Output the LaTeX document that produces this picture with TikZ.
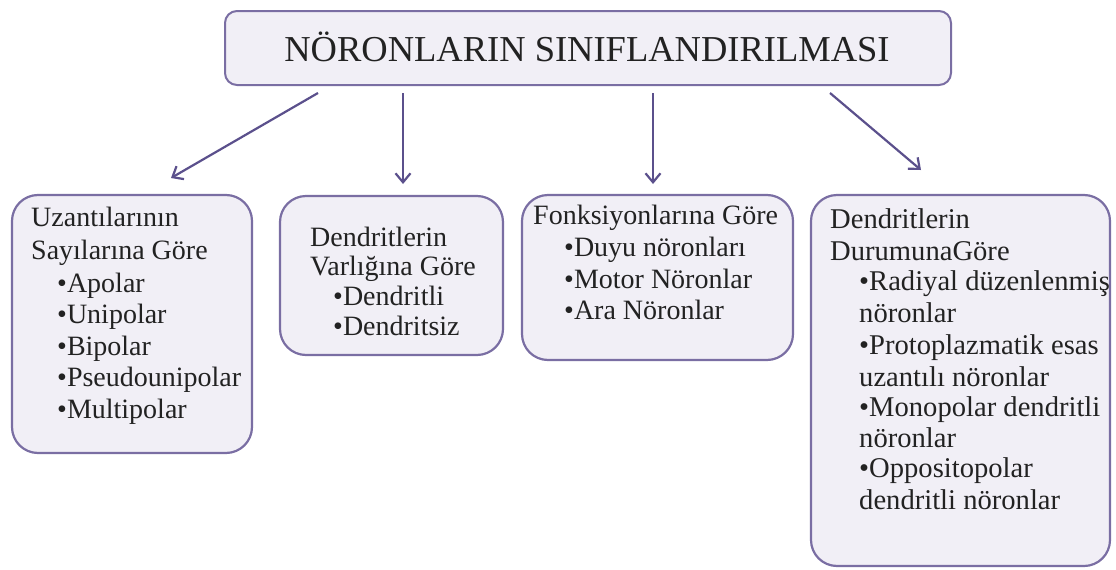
\documentclass[tikz,border=0pt]{standalone}
\usepackage{fontspec}
\setmainfont{Liberation Serif}
\usetikzlibrary{arrows.meta}
\definecolor{boxfill}{HTML}{F1EFF6}
\definecolor{boxline}{HTML}{7A6EA3}
\definecolor{arrowc}{HTML}{5B508C}
\definecolor{txt}{HTML}{222222}
\begin{document}
\begin{tikzpicture}[x=1pt,y=-1pt,
  catbox/.style={draw=boxline, line width=2.2pt, fill=boxfill, rounded corners=26pt, inner sep=0pt},
  titlebox/.style={draw=boxline, line width=2pt, fill=boxfill, rounded corners=12pt, inner sep=0pt},
  link/.style={draw=arrowc, line width=2.2pt, -{Straight Barb[length=9pt,width=15pt,line width=2.2pt]}},
  ln/.style={anchor=base west, inner sep=0pt, text=txt, font=\fontsize{28}{30}\selectfont},
  ln4/.style={anchor=base west, inner sep=0pt, text=txt, font=\fontsize{28.6}{30}\selectfont},
  ttl/.style={anchor=base, inner sep=0pt, text=txt, font=\fontsize{36.5}{40}\selectfont},
]
\useasboundingbox (0,0) rectangle (1116,570);
% title
\node[titlebox, minimum width=726pt, minimum height=74pt] (title) at (588,48) {};
\node[ttl] (titletext) at (587,61) {NÖRONLARIN SINIFLANDIRILMASI};
% boxes
\node[catbox, minimum width=240pt, minimum height=258pt] (b1) at (132,324) {};
\node[catbox, minimum width=223pt, minimum height=159pt] (b2) at (391.5,275.5) {};
\node[catbox, minimum width=271pt, minimum height=165pt] (b3) at (657.5,277.5) {};
\node[catbox, minimum width=299pt, minimum height=371pt] (b4) at (960.5,380.5) {};
% box 1 text
\node[ln] (b1a) at (31,226) {Uzantılarının};
\node[ln] (b1b) at (31,259) {Sayılarına Göre};
\node[ln] (b1c) at (57,292) {•Apolar};
\node[ln] (b1d) at (57,323.5) {•Unipolar};
\node[ln] (b1e) at (57,355) {•Bipolar};
\node[ln] (b1f) at (57,386.5) {•Pseudounipolar};
\node[ln] (b1g) at (57,418) {•Multipolar};
% box 2 text
\node[ln] (b2a) at (310,246) {Dendritlerin};
\node[ln] (b2b) at (310,275) {Varlığına Göre};
\node[ln] (b2c) at (333,305) {•Dendritli};
\node[ln] (b2d) at (333,335) {•Dendritsiz};
% box 3 text
\node[ln] (b3a) at (533,224) {Fonksiyonlarına Göre};
\node[ln] (b3b) at (564,256) {•Duyu nöronları};
\node[ln] (b3c) at (564,288) {•Motor Nöronlar};
\node[ln] (b3d) at (564,319) {•Ara Nöronlar};
% box 4 text
\node[ln4] (b4a) at (830,228) {Dendritlerin};
\node[ln4] (b4b) at (830,260) {DurumunaGöre};
\node[ln4] (b4c) at (859,290) {•Radiyal düzenlenmiş};
\node[ln4] (b4d) at (859,322) {nöronlar};
\node[ln4] (b4e) at (859,354) {•Protoplazmatik esas};
\node[ln4] (b4f) at (859,386) {uzantılı nöronlar};
\node[ln4] (b4g) at (859,416) {•Monopolar dendritli};
\node[ln4] (b4h) at (859,447) {nöronlar};
\node[ln4] (b4i) at (859,477) {•Oppositopolar};
\node[ln4] (b4j) at (859,509) {dendritli nöronlar};
% arrows
\coordinate (a1s) at (318,93);
\coordinate (a1e) at (171,178);
\coordinate (a2s) at (403,93);
\coordinate (a2e) at (403,184);
\coordinate (a3s) at (653,93);
\coordinate (a3e) at (653,184);
\coordinate (a4s) at (830,93);
\coordinate (a4e) at (921,170);
\draw[link] (a1s) -- (a1e);
\draw[link] (a2s) -- (a2e);
\draw[link] (a3s) -- (a3e);
\draw[link] (a4s) -- (a4e);
\end{tikzpicture}
\end{document}
